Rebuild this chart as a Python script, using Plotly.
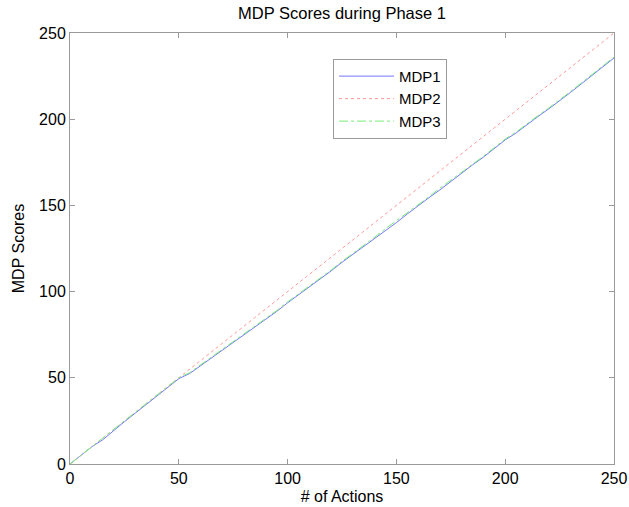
import plotly.graph_objects as go

actions = list(range(0, 251, 5))
mdp1 = [0, 5, 10, 14, 19.5, 24.5, 29.5, 34.5, 39.5, 44.5, 49.5, 52.5, 57, 61.5, 65.5,
        70.5, 75, 79.5, 84, 88.5, 93.5, 98, 103, 107.5, 112, 117, 121.5, 126, 130.5,
        135.5, 140, 145, 150, 154.5, 159, 164, 169, 173.5, 178, 183, 188, 192, 197,
        201.5, 206, 210.5, 215.5, 220.5, 225.5, 230, 235.5]
mdp2 = [0, 5, 10, 15, 20, 25, 30, 35, 40, 45, 50, 55, 60, 65, 70, 75, 80, 85, 90, 95,
        100, 105, 110, 115, 120, 125, 130, 135, 140, 145, 150, 155, 160, 165, 170, 175,
        180, 185, 190, 195, 200, 205, 210, 215, 220, 225, 230, 235, 240, 245, 250]
mdp3 = [0, 5, 10, 14.5, 20, 25, 30, 35, 40, 45, 50, 53, 57.5, 62, 66, 71, 75.5, 80,
        84.5, 89, 94, 98.5, 103.5, 108, 112.5, 117.5, 122, 126.5, 131.5, 136.5, 141,
        145.5, 150.5, 155, 160, 164.5, 169.5, 174, 178.5, 183.5, 188.5, 192.5, 197.5,
        202, 206.5, 211, 216, 221, 226, 230.5, 236]

series_names = ["MDP1", "MDP2", "MDP3"]
colors = ["rgb(120,120,255)", "rgb(255,150,150)", "rgb(120,235,120)"]
dashes = ["solid", "dot", "dashdot"]

fig = go.Figure()
for name, ys, c, d in zip(series_names, [mdp1, mdp2, mdp3], colors, dashes):
    fig.add_trace(go.Scatter(x=actions, y=ys, mode="lines", name=name,
                             line=dict(color=c, width=1, dash=d)))

font = "Liberation Sans, Arial, sans-serif"
axis_common = dict(showline=True, linecolor="#9a9a9a", linewidth=1, mirror="ticks",
                   ticks="inside", ticklen=5, tickcolor="#9a9a9a", showgrid=False,
                   zeroline=False, automargin=False,
                   tickfont=dict(family=font, size=16, color="black"),
                   dtick=50)
fig.update_layout(
    width=629, height=507,
    margin=dict(l=70, r=15, t=33, b=43),
    paper_bgcolor="white", plot_bgcolor="white",
    title=dict(text="MDP Scores during Phase 1", x=0.5, xref="paper", xanchor="center",
               y=0.974, yanchor="middle", font=dict(family=font, size=16.5, color="black")),
    xaxis=dict(range=[0, 250], title=dict(text="# of Actions", standoff=4,
               font=dict(family=font, size=16, color="black")), **axis_common),
    yaxis=dict(range=[0, 250], title=dict(text="MDP Scores", standoff=10,
               font=dict(family=font, size=16, color="black")), **axis_common),
    legend=dict(x=0.4835, y=0.94, xanchor="left", yanchor="top",
                bordercolor="#9a9a9a", borderwidth=1, bgcolor="white",
                font=dict(family=font, size=15, color="black"),
                tracegroupgap=0, itemwidth=55),
    showlegend=True,
)
fig.write_html("out.html", config={"displayModeBar": False},
               post_script="document.body.style.margin='0';document.body.style.overflow='hidden';")
